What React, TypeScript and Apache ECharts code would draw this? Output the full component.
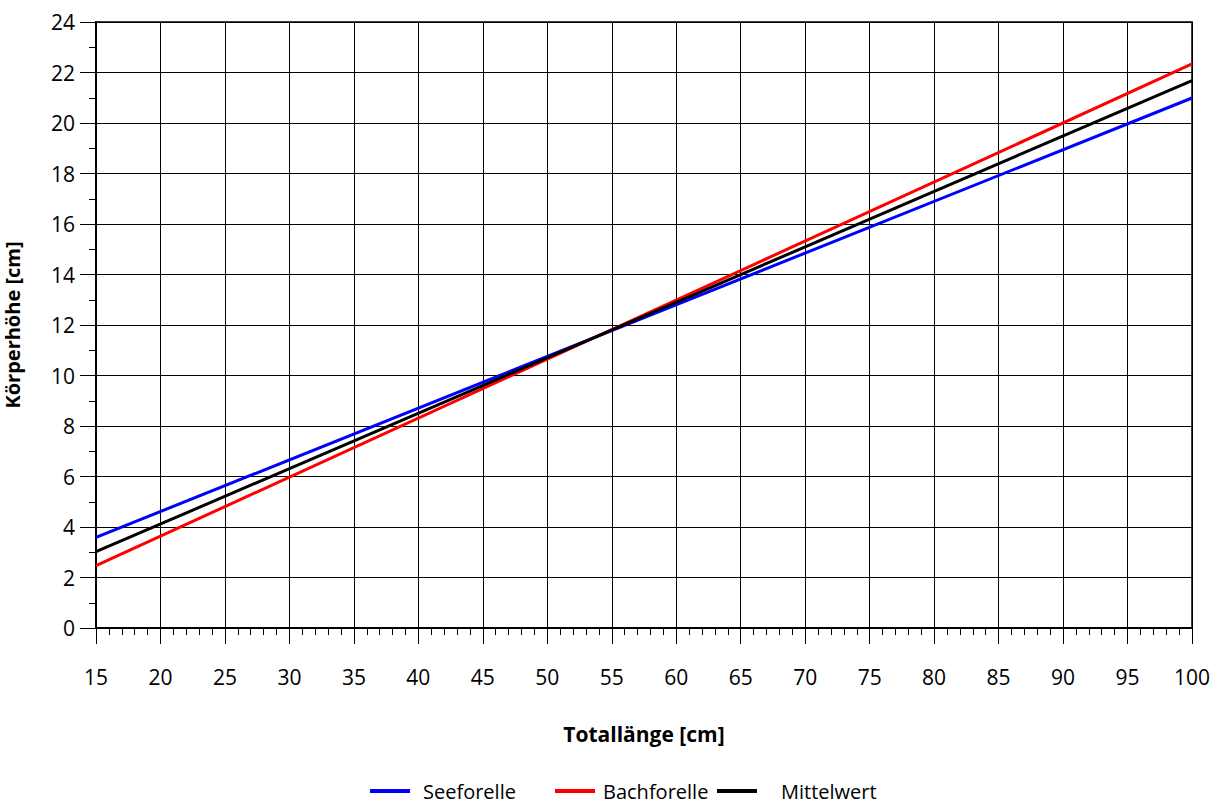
import React, { useEffect, useRef } from "react";
import * as echarts from "echarts";

const xValues = [15, 100];
const seeforelle = [3.59, 20.99];
const bachforelle = [2.47, 22.34];
const mittelwert = [3.02, 21.68];
const seriesNames = ["Seeforelle", "Bachforelle", "Mittelwert"];
const seriesColors = ["#0000ff", "#ff0000", "#000000"];
const xTitle = "Totallänge [cm]";
const yTitle = "Körperhöhe [cm]";

const FONT = "'Open Sans', Lato, sans-serif";

const legendLefts = [370, 555, 717];
const legendTextPad = [8, 3, 19];

export default function App() {
  const ref = useRef<HTMLDivElement>(null);
  useEffect(() => {
    if (!ref.current) return;
    const chart = echarts.init(ref.current, undefined, { renderer: "svg" });
    const values = [seeforelle, bachforelle, mittelwert];
    chart.setOption({
      animation: false,
      textStyle: { fontFamily: FONT },
      grid: {
        left: 96,
        right: 27,
        top: 22,
        bottom: 177,
        show: true,
        borderColor: "#000",
        borderWidth: 1.5,
        outerBoundsMode: "none",
        containLabel: false,
      },
      legend: seriesNames.map((name, i) => ({
        top: 780,
        left: legendLefts[i],
        itemWidth: 40,
        itemHeight: 4,
        icon: "rect",
        padding: 0,
        textStyle: {
          fontSize: 20,
          lineHeight: 22,
          color: "#000",
          fontFamily: FONT,
          padding: [0, 0, 0, legendTextPad[i]],
        },
        data: [name],
      })),
      xAxis: {
        type: "value",
        min: 15,
        max: 100,
        interval: 5,
        name: xTitle,
        nameLocation: "middle",
        nameGap: 95,
        nameTextStyle: { fontSize: 21, fontWeight: "bold", color: "#000", fontFamily: FONT },
        axisLine: { show: true, lineStyle: { color: "#000", width: 2 } },
        axisTick: { show: true, length: 16, lineStyle: { color: "#000", width: 1 } },
        minorTick: { show: true, splitNumber: 5, length: 7, lineStyle: { color: "#000", width: 1 } },
        axisLabel: { fontSize: 21, color: "#000", margin: 38, fontFamily: FONT },
        splitLine: { show: true, lineStyle: { color: "#000", width: 1 } },
      },
      yAxis: {
        type: "value",
        min: 0,
        max: 24,
        interval: 2,
        name: yTitle,
        nameLocation: "middle",
        nameGap: 74,
        nameRotate: 90,
        nameTextStyle: { fontSize: 20, fontWeight: "bold", color: "#000", fontFamily: FONT },
        axisLine: { show: true, lineStyle: { color: "#000", width: 2 } },
        axisTick: { show: true, length: 16, lineStyle: { color: "#000", width: 1 } },
        minorTick: { show: true, splitNumber: 2, length: 7, lineStyle: { color: "#000", width: 1 } },
        axisLabel: { fontSize: 21, color: "#000", margin: 21, fontFamily: FONT },
        splitLine: { show: true, lineStyle: { color: "#000", width: 1 } },
      },
      series: seriesNames.map((name, i) => ({
        name,
        type: "line",
        data: xValues.map((x, j) => [x, values[i][j]]),
        showSymbol: false,
        symbol: "none",
        color: seriesColors[i],
        lineStyle: { color: seriesColors[i], width: 3 },
        itemStyle: { color: seriesColors[i] },
      })),
    });
    return () => chart.dispose();
  }, []);
  return <div ref={ref} style={{ width: 1219, height: 805, position: "absolute", left: 0, top: 0 }} />;
}
